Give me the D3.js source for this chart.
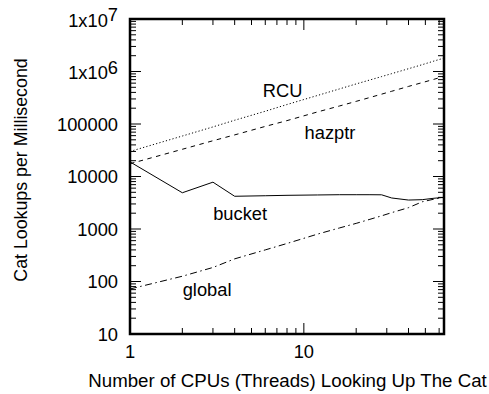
<!DOCTYPE html>
<meta charset="utf-8">
<script src="https://d3js.org/d3.v7.min.js"></script>
<style>
  body { margin: 0; background: #fff; }
  text { font-family: "Liberation Sans", Arial, sans-serif; fill: #000; }
</style>
<div id="chart"></div>
<script>

    // data
    var cpus     = [1, 2, 3, 4, 6, 8, 12, 16, 20, 24, 28, 32, 40, 48, 56, 64];
    var rcu      = [30000, 59000, 88000, 118000, 175000, 235000, 350000, 465000, 580000, 690000, 800000, 910000, 1130000, 1350000, 1580000, 1800000];
    var hazptr   = [17500, 33000, 48000, 62000, 90000, 116000, 170000, 220000, 270000, 320000, 370000, 420000, 520000, 615000, 710000, 810000];
    var bucket   = [19000, 4900, 7800, 4200, 4300, 4380, 4450, 4500, 4500, 4500, 4480, 3900, 3560, 3620, 3850, 4000];
    var global   = [72, 126, 185, 270, 400, 530, 800, 1045, 1280, 1530, 1780, 2050, 2550, 3300, 3700, 4000];

    var yTicks = [10, 100, 1000, 10000, 100000, 1e6, 1e7];
    var yTickLabels = ["10", "100", "1000", "10000", "100000", "1x10^6", "1x10^7"];
    var xTicks = [1, 10];

    var margin = {top: 19, right: 45, bottom: 60, left: 130},
        width = 489 - margin.left - margin.right,
        height = 394 - margin.top - margin.bottom;

    var svg = d3.select("#chart")
      .append("svg")
        .attr("width", 489)
        .attr("height", 394)
      .append("g")
        .attr("transform", "translate(" + margin.left + "," + margin.top + ")");

    var x = d3.scaleLog().domain([1, 64]).range([0, width]);
    var y = d3.scaleLog().domain([10, 1e7]).range([height, 0]);

    // minor tick values
    var xMinor = [], yMinor = [];
    [1, 10].forEach(function(d) {
      for (var k = 2; k <= 9; k++) if (d * k <= 64) xMinor.push(d * k);
    });
    yTicks.slice(0, -1).forEach(function(d) {
      for (var k = 2; k <= 9; k++) yMinor.push(d * k);
    });

    var ticks = svg.append("g").attr("stroke", "#000").attr("stroke-width", 1);
    var big = 11, small = 6;

    // bottom and top ticks, pointing inward
    xMinor.forEach(function(d) {
      ticks.append("line").attr("x1", x(d)).attr("x2", x(d)).attr("y1", height).attr("y2", height - small);
      ticks.append("line").attr("x1", x(d)).attr("x2", x(d)).attr("y1", 0).attr("y2", small);
    });
    xTicks.forEach(function(d) {
      ticks.append("line").attr("x1", x(d)).attr("x2", x(d)).attr("y1", height).attr("y2", height - big);
      ticks.append("line").attr("x1", x(d)).attr("x2", x(d)).attr("y1", 0).attr("y2", big);
    });
    // left and right ticks
    yMinor.forEach(function(d) {
      ticks.append("line").attr("x1", 0).attr("x2", small).attr("y1", y(d)).attr("y2", y(d));
      ticks.append("line").attr("x1", width).attr("x2", width - small).attr("y1", y(d)).attr("y2", y(d));
    });
    yTicks.forEach(function(d) {
      ticks.append("line").attr("x1", 0).attr("x2", big).attr("y1", y(d)).attr("y2", y(d));
      ticks.append("line").attr("x1", width).attr("x2", width - big).attr("y1", y(d)).attr("y2", y(d));
    });

    // tick labels
    svg.append("g").selectAll("text")
      .data(xTicks)
      .enter()
      .append("text")
        .attr("x", function(d) { return x(d); })
        .attr("y", height + 24)
        .attr("text-anchor", "middle")
        .style("font-size", "18.3px")
        .text(function(d) { return d; });

    var yl = svg.append("g").selectAll("text")
      .data(yTicks)
      .enter()
      .append("text")
        .attr("x", -12)
        .attr("y", function(d, i) { return y(d) + (yTickLabels[i].indexOf("^") >= 0 ? 7.8 : 6.7); })
        .attr("text-anchor", "end")
        .style("font-size", "18.3px");
    yl.each(function(d, i) {
      var t = d3.select(this), lab = yTickLabels[i];
      if (lab.indexOf("^") >= 0) {
        var p = lab.split("^");
        t.append("tspan").text(p[0]);
        t.append("tspan").attr("dy", -5.5).text(p[1]);
      } else {
        t.text(lab);
      }
    });

    // series lines
    var line = function(vals) {
      return d3.line()
        .x(function(d, i) { return x(cpus[i]); })
        .y(function(d) { return y(d); })(vals);
    };
    var series = [
      {vals: rcu, dash: "1.2,2.2"},
      {vals: hazptr, dash: "4.5,4.5"},
      {vals: bucket, dash: null},
      {vals: global, dash: "7,3.5,1.5,3.5"}
    ];
    series.forEach(function(s) {
      svg.append("path")
        .attr("d", line(s.vals))
        .attr("fill", "none")
        .attr("stroke", "#000")
        .attr("stroke-width", 1)
        .style("stroke-dasharray", s.dash);
    });

    // border
    svg.append("rect")
      .attr("x", 0).attr("y", 0)
      .attr("width", width).attr("height", height)
      .attr("fill", "none")
      .attr("stroke", "#000")
      .attr("stroke-width", 2.5);

    // series labels
    var labels = [
      {t: "RCU", x: 5.81, y: 3.26e5},
      {t: "hazptr", x: 10.1, y: 5.18e4},
      {t: "bucket", x: 3.01, y: 1480},
      {t: "global", x: 2.01, y: 52}
    ];
    svg.append("g").selectAll("text")
      .data(labels)
      .enter()
      .append("text")
        .attr("x", function(d) { return x(d.x); })
        .attr("y", function(d) { return y(d.y); })
        .style("font-size", "18.3px")
        .text(function(d) { return d.t; });

    // axis titles
    svg.append("text")
      .attr("x", 287.5 - margin.left)
      .attr("y", 387 - margin.top)
      .attr("text-anchor", "middle")
      .style("font-size", "18.7px")
      .text("Number of CPUs (Threads) Looking Up The Cat");

    svg.append("text")
      .attr("transform", "translate(" + (26.5 - margin.left) + "," + (170 - margin.top) + ") rotate(-90)")
      .attr("text-anchor", "middle")
      .style("font-size", "17.8px")
      .text("Cat Lookups per Millisecond");

</script>
